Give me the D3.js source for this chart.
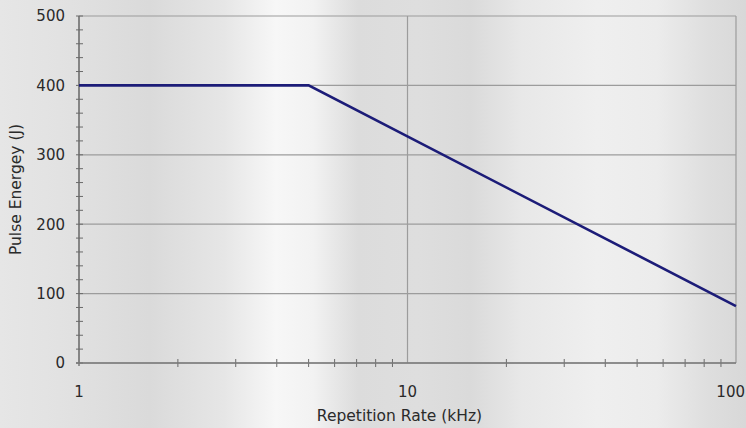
<!DOCTYPE html>
<html><head><meta charset="utf-8">
<script src="https://cdn.jsdelivr.net/npm/d3@7"></script>
<style>
html,body{margin:0;padding:0;}
svg{display:block;}
text{font-family:"DejaVu Sans",sans-serif;fill:#2a2a2a;}
</style></head>
<body>
<svg id="c" width="746" height="428"></svg>
<script>
// Data
const rate = [1, 5, 100];          // kHz
const energy = [400, 400, 82];     // J
const yTicks = [0, 100, 200, 300, 400, 500];
const xTicks = [1, 10, 100];
const xTitle = "Repetition Rate (kHz)";
const yTitle = "Pulse Energey (J)";

const W = 746, H = 428;
const m = {l: 79, r: 10, t: 16, b: 65};
const svg = d3.select("#c");

// brushed metal background
const defs = svg.append("defs");
const g = defs.append("linearGradient").attr("id","bg").attr("x1","0").attr("x2","1").attr("y1","0").attr("y2","0");
[[0,"#e6e6e6"],[0.08,"#e2e2e2"],[0.2,"#dadada"],[0.3,"#e6e6e6"],[0.37,"#f7f7f7"],[0.42,"#f2f2f2"],[0.48,"#dcdcdc"],[0.56,"#dedede"],[0.63,"#dadada"],[0.7,"#e8e8e8"],[0.8,"#efefef"],[0.88,"#ececec"],[0.95,"#dedede"],[1,"#d8d8d8"]]
  .forEach(s => g.append("stop").attr("offset", s[0]).attr("stop-color", s[1]));
svg.append("rect").attr("width",W).attr("height",H).attr("fill","url(#bg)");

const x = d3.scaleLog().domain([1,100]).range([m.l, W - m.r]);
const y = d3.scaleLinear().domain([0,500]).range([H - m.b, m.t]);

const grid = svg.append("g").attr("stroke","#9c9c9c").attr("stroke-width",1.2);
yTicks.forEach(v => grid.append("line").attr("x1",x(1)).attr("x2",x(100)).attr("y1",y(v)).attr("y2",y(v)));
xTicks.forEach(v => grid.append("line").attr("x1",x(v)).attr("x2",x(v)).attr("y1",y(0)).attr("y2",y(500)));

// minor ticks
const tk = svg.append("g").attr("stroke","#6a6a6a").attr("stroke-width",1);
d3.range(0, 501, 20).forEach(v => tk.append("line").attr("x1",x(1)-3).attr("x2",x(1)+4).attr("y1",y(v)).attr("y2",y(v)));
[2,3,4,5,6,7,8,9,20,30,40,50,60,70,80,90].forEach(v => tk.append("line").attr("x1",x(v)).attr("x2",x(v)).attr("y1",y(0)-4).attr("y2",y(0)+4));

// axes lines
svg.append("line").attr("x1",x(1)).attr("x2",x(1)).attr("y1",y(0)+3).attr("y2",y(500)).attr("stroke","#6a6a6a").attr("stroke-width",1.3);
svg.append("line").attr("x1",x(1)-3).attr("x2",x(100)).attr("y1",y(0)).attr("y2",y(0)).attr("stroke","#7a7a7a").attr("stroke-width",1.3);

// tick labels
yTicks.forEach(v => svg.append("text").attr("x", x(1)-14).attr("y", y(v)).attr("dy","0.36em").attr("text-anchor","end").attr("font-size",15).text(v));
xTicks.forEach((v,i) => svg.append("text").attr("x", i === xTicks.length-1 ? W - 1 : x(v))
  .attr("y", y(0)+34).attr("text-anchor", i === xTicks.length-1 ? "end" : "middle").attr("font-size",15).text(v));

// titles
svg.append("text").attr("x", x(10)-8).attr("y", 421).attr("text-anchor","middle").attr("font-size",15.5).text(xTitle);
svg.append("text").attr("transform", `translate(21,${(y(0)+y(500))/2}) rotate(-90)`).attr("text-anchor","middle").attr("font-size",15.5).text(yTitle);

// line
const pts = rate.map((r,i) => [r, energy[i]]);
svg.append("path").datum(pts).attr("fill","none").attr("stroke","#1c1c78").attr("stroke-width",2.6)
  .attr("d", d3.line().x(d => x(d[0])).y(d => y(d[1])));
</script>
</body></html>
